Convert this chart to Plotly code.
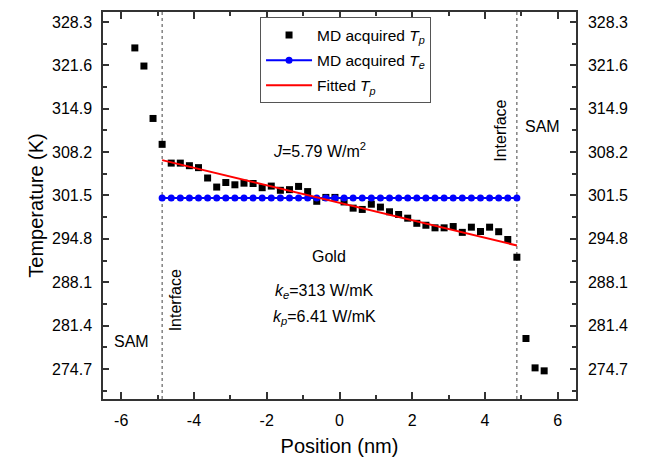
import plotly.graph_objects as go

# ---- data ----
position_tp = [-5.625 + 0.25 * k for k in range(46)]
temp_tp = [324.3, 321.5, 313.4, 309.4, 306.5, 306.5, 306.1, 305.8, 304.2, 302.8,
           303.5, 303.15, 303.4, 303.35, 302.7, 302.95, 302.3, 302.4, 302.9, 302.1,
           300.6, 301.2, 301.2, 300.5, 299.54, 299.34, 300.15, 299.7, 298.98, 298.56,
           297.99, 297.2, 296.9, 296.5, 296.5, 296.7, 295.8, 296.6, 295.93, 296.6,
           295.9, 294.7, 291.96, 279.4, 274.86, 274.4]
position_te = [-4.875 + 0.25 * k for k in range(40)]
temp_te = [301.1] * 40
fit_x = [-4.875, 4.875]
fit_t = [306.96, 293.77]
interface_x = [-4.875, 4.875]
y_ticks = [274.7, 281.4, 288.1, 294.8, 301.5, 308.2, 314.9, 321.6, 328.3]
x_ticks = [-6, -4, -2, 0, 2, 4, 6]
x_tick_labels = ["-6", "-4", "-2", "0", "2", "4", "6"]

FONT = "Liberation Sans, Arial, sans-serif"
AX = "#333333"

fig = go.Figure()
fig.add_trace(go.Scatter(x=position_tp, y=temp_tp, mode="markers",
                         marker=dict(symbol="square", size=7, color="black"),
                         legendgroup="a",
                         name="MD acquired <i>T</i><sub><i>p</i></sub>"))
fig.add_trace(go.Scatter(x=position_te, y=temp_te, mode="lines+markers",
                         line=dict(color="#0000ff", width=2),
                         marker=dict(symbol="circle", size=7, color="#0000ff"),
                         legendgroup="b",
                         name="MD acquired <i>T</i><sub><i>e</i></sub>"))
fig.add_trace(go.Scatter(x=fit_x, y=fit_t, mode="lines",
                         line=dict(color="#ff0000", width=2),
                         legendgroup="c",
                         name="Fitted <i>T</i><sub><i>p</i></sub>"))
# invisible trace to anchor the right axis
fig.add_trace(go.Scatter(x=[fit_x[0]], y=[fit_t[0]], yaxis="y2", mode="markers",
                         marker=dict(opacity=0), showlegend=False, hoverinfo="skip"))

for xv in interface_x:
    fig.add_shape(type="line", xref="x", yref="paper", x0=xv, x1=xv, y0=0, y1=1,
                  line=dict(color="#444444", width=1, dash="3px,3px"), layer="below")

yr = [270.05, 329.85]
common_y = dict(range=yr, tickvals=y_ticks, ticktext=[f"{v:.1f}" for v in y_ticks],
                ticks="inside", ticklen=6, tickwidth=1.5, tickcolor=AX, automargin=False,
                showline=True, linecolor=AX, linewidth=1.5, showgrid=False, zeroline=False,
                minor=dict(tickvals=[v + 3.35 for v in y_ticks[:-1]] + [y_ticks[0] - 3.35],
                           ticks="inside", ticklen=4, tickwidth=1.5, tickcolor=AX),
                tickfont=dict(size=16, color="black", family=FONT))

fig.update_layout(
    width=654, height=457,
    margin=dict(l=103, r=78, t=12, b=58),
    plot_bgcolor="white", paper_bgcolor="white",
    font=dict(family=FONT, color="black"),
    xaxis=dict(range=[-6.5, 6.5], tickvals=x_ticks, ticktext=x_tick_labels,
               ticks="inside", ticklen=7, tickwidth=1.5, automargin=False,
               tickcolor=AX, showline=True, linecolor=AX, linewidth=1.5, mirror="ticks",
               showgrid=False, zeroline=False,
               minor=dict(tickvals=[-5, -3, -1, 1, 3, 5], ticks="inside", ticklen=4,
                          tickwidth=1.5, tickcolor=AX),
               tickfont=dict(size=16, color="black", family=FONT), ticklabelstandoff=6,
               title=dict(text="Position (nm)", font=dict(size=20, family=FONT), standoff=15)),
    yaxis=dict(**common_y, ticklabelstandoff=6,
               title=dict(text="Temperature (K)", font=dict(size=20, family=FONT), standoff=3)),
    yaxis2=dict(**common_y, overlaying="y", side="right", ticklabelstandoff=7),
    legend=dict(x=0.332, y=0.986, xanchor="left", yanchor="top", bgcolor="white",
                bordercolor="#555555", borderwidth=1, font=dict(size=15.5, family=FONT),
                tracegroupgap=2, itemwidth=46),
)

ann_font = dict(size=16, family=FONT, color="black")
annotations = [
    (-0.56, 308.46, "<i>J</i>=5.79 W/m<sup>2</sup>", 0),
    (-0.30, 292.0, "Gold", 0),
    (-0.42, 286.66, "<i>k</i><sub><i>e</i></sub>=313 W/mK", 0),
    (-0.42, 282.6, "<i>k</i><sub><i>p</i></sub>=6.41 W/mK", 0),
    (-5.71, 279.0, "SAM", 0),
    (5.59, 312.1, "SAM", 0),
    (-4.52, 285.3, "Interface", -90),
    (4.44, 311.5, "Interface", -90),
]
for x, y, t, ang in annotations:
    fig.add_annotation(x=x, y=y, xref="x", yref="y", text=t, showarrow=False,
                       font=ann_font, textangle=ang)

fig.write_html("out.html")
